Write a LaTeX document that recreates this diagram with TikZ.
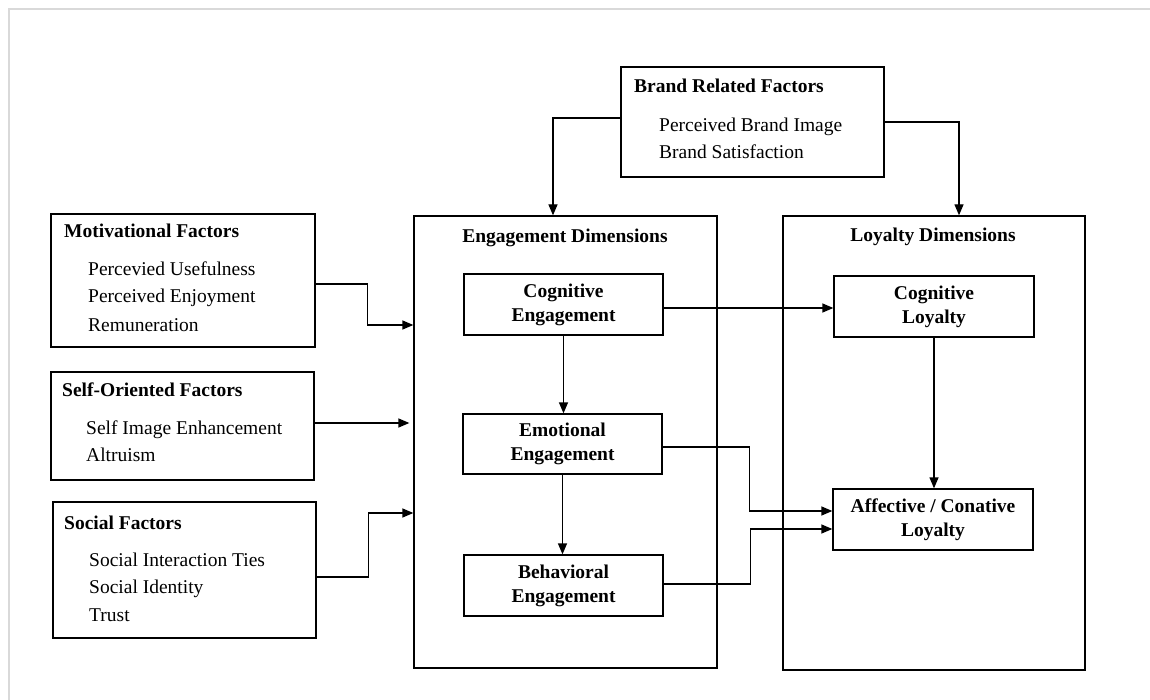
\documentclass[tikz,border=0pt]{standalone}
\usepackage{fontspec}
\setmainfont{Liberation Serif}
\usetikzlibrary{arrows.meta}
\begin{document}
\begin{tikzpicture}[x=1pt,y=-1pt,
  box/.style={draw, line width=1.3pt, inner sep=0pt},
  ibox/.style={draw, line width=1.3pt, inner sep=0pt, align=center, font=\fontsize{19.5}{24}\selectfont\bfseries},
  ttl/.style={anchor=base west, inner sep=0pt, font=\fontsize{19.5}{23}\selectfont\bfseries},
  dtl/.style={anchor=base, inner sep=0pt, font=\fontsize{19.5}{23}\selectfont\bfseries},
  itm/.style={anchor=base west, inner sep=0pt, font=\fontsize{19.5}{23}\selectfont},
  arr/.style={line width=1.3pt, -{Triangle[length=11pt,width=9pt]}}]
\useasboundingbox (0,0) rectangle (1150,700);
\fill[white] (0,0) rectangle (1150,700);
\draw[black!15, line width=2pt] (9,712) -- (9,9) -- (1162,9);

% boxes
\node[box, minimum width=264pt, minimum height=133pt] (mot) at (183,280.5) {};
\node[box, minimum width=263pt, minimum height=108pt] (self) at (182.5,426) {};
\node[box, minimum width=263pt, minimum height=136pt] (soc) at (184.5,570) {};
\node[box, minimum width=263pt, minimum height=110pt] (brand) at (752.5,122) {};
\node[box, minimum width=303pt, minimum height=452pt] (eng) at (565.5,442) {};
\node[box, minimum width=302pt, minimum height=454pt] (loy) at (934,443) {};

% factor texts
\node[ttl] (motT) at (64,238) {Motivational Factors};
\node[itm] (mot1) at (88,276) {Percevied Usefulness};
\node[itm] (mot2) at (88,303) {Perceived Enjoyment};
\node[itm] (mot3) at (88,331) {Remuneration};

\node[ttl] (selfT) at (62,396) {Self-Oriented Factors};
\node[itm] (self1) at (86,434) {Self Image Enhancement};
\node[itm] (self2) at (86,461) {Altruism};

\node[ttl] (socT) at (64,529) {Social Factors};
\node[itm] (soc1) at (89,566) {Social Interaction Ties};
\node[itm] (soc2) at (89,593) {Social Identity};
\node[itm] (soc3) at (89,621) {Trust};

\node[ttl] (brandT) at (634,93) {Brand Related Factors};
\node[itm] (brand1) at (659,132) {Perceived Brand Image};
\node[itm] (brand2) at (659,159) {Brand Satisfaction};

\node[dtl] (engT) at (565,243) {Engagement Dimensions};
\node[dtl] (loyT) at (933,242) {Loyalty Dimensions};

% inner boxes
\node[ibox, minimum width=199pt, minimum height=61pt] (ce) at (563.5,304.5) {Cognitive\\Engagement};
\node[ibox, minimum width=199pt, minimum height=60pt] (ee) at (562.5,444) {Emotional\\Engagement};
\node[ibox, minimum width=199pt, minimum height=61pt] (be) at (563.5,585.5) {Behavioral\\Engagement};
\node[ibox, minimum width=200pt, minimum height=61pt] (cl) at (934,306.5) {Cognitive\\Loyalty};
\node[ibox, minimum width=200pt, minimum height=61pt] (al) at (933,519.5) {Affective / Conative\\Loyalty};

% connectors
\draw[arr] ([yshift=4pt]brand.west) -| ([xshift=-12.5pt]eng.north);
\draw[arr] (brand.east) -| ([xshift=25pt]loy.north);
\draw[arr] ([yshift=-3.5pt]mot.east) -- ++(52,0) |- (eng.west |- 0,325);
\draw[arr, shorten >=4pt] (self.east |- 0,423) -- (eng.west |- 0,423);
\draw[arr] ([yshift=-7pt]soc.east) -- ++(52,0) |- (eng.west |- 0,513);
\draw[arr] (ce.south) -- (ce.south |- ee.north);
\draw[arr] (ee.south) -- (ee.south |- be.north);
\draw[arr] (ce.east |- 0,308) -- (cl.west |- 0,308);
\draw[arr] (cl.south) -- (cl.south |- al.north);
\draw[arr] (ee.east |- 0,447) -- ++(87,0) |- (al.west |- 0,511);
\draw[arr] (be.east |- 0,584) -- ++(87,0) |- (al.west |- 0,529);
\end{tikzpicture}
\end{document}
